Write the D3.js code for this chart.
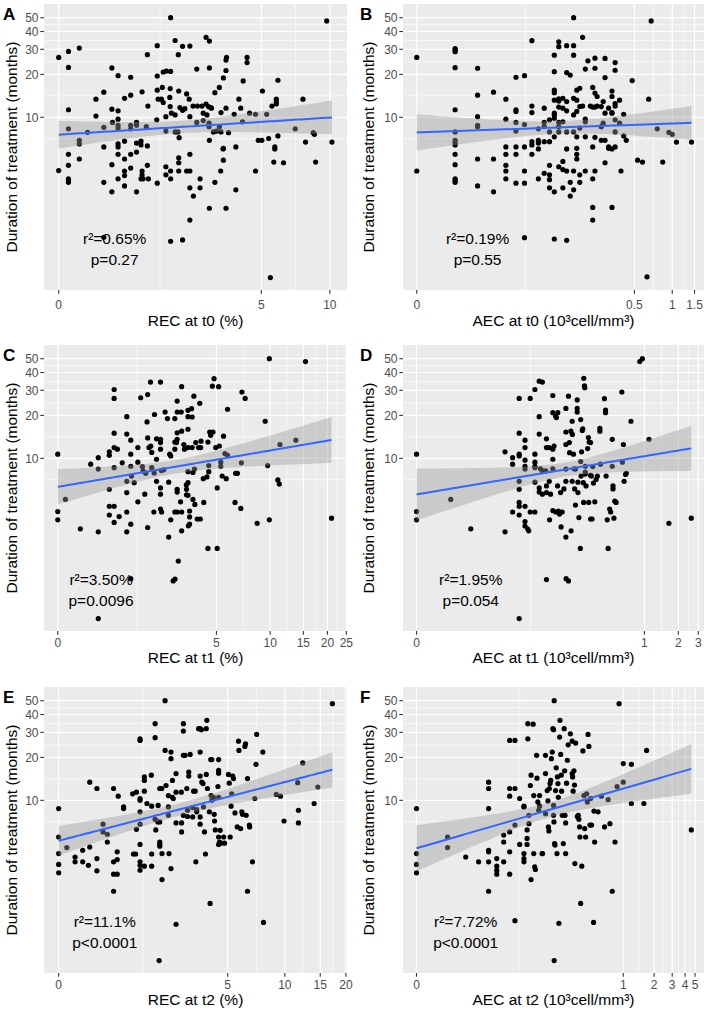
<!DOCTYPE html>
<html lang="en">
<head>
<meta charset="UTF-8">
<title>Duration of treatment vs REC / AEC</title>
<script src="https://d3js.org/d3.v7.min.js"></script>
<style>
  body { margin: 0; background: #ffffff; }
  svg text { font-family: "Liberation Sans", Arial, sans-serif; }
</style>
</head>
<body>
<svg id="chart" width="708" height="1017"></svg>
<script>
// ---- data (x value, months) ----
const pointsA = [[1.69,50],[9.7,47.5],[2.68,36.4],[2.79,34.3],[1.8,34.6],[0,26.3],[0.09,29],[0.2,30.6],[1.19,27.5],[1.39,31.8],[1.99,31.5],[2.19,31.6],[1.88,27.5],[3.41,26.4],[3.39,25.2],[4.29,26.3],[4.29,24.2],[0.09,22.4],[0.6,22.2],[2.79,22.2],[2.39,21.8],[3.39,21.3],[1.39,19.5],[1.52,20.8],[1.59,21.1],[1.69,21],[0.69,19.6],[0.89,19.1],[3.29,18.9],[4.11,18],[5.95,18.2],[1.5,16.2],[3.14,16.2],[2.98,14.9],[1.09,15.1],[1.68,15.9],[1.89,15.3],[0.49,15],[0.89,14.3],[0.39,13.4],[0.79,13.6],[2.1,14.6],[1.39,15.5],[1.48,13.4],[1.52,12.7],[1.41,13.4],[2.17,13.4],[1.92,11.7],[1.99,11.2],[2.05,11.5],[2.28,12],[2.41,12],[2.55,12],[2.68,12.4],[2.76,11.9],[2.84,11.7],[2.59,10.7],[2.71,10.4],[2.86,11.6],[3.39,11.6],[1.2,12],[1.67,13.8],[5.06,15.3],[5.85,13.4],[5.85,12.8],[5.85,12.4],[7.67,13.4],[3.92,13.4],[4,11.6],[0.6,11.4],[0.69,11.1],[1.68,11.9],[0.09,11.3],[0.39,10.2],[0.69,9.7],[1.38,9.6],[1.58,10.1],[1.71,10.7],[1.8,10.4],[2.19,10.1],[2.39,9.2],[2.59,9.5],[3.2,10.8],[4.41,10.7],[4.7,10.5],[5.29,10.5],[5.59,12],[3.72,10.5],[0.09,8.3],[0.29,7.85],[0.2,6.9],[0.2,6.5],[0.49,8.5],[0.61,9.2],[0.69,8.8],[0.69,8.4],[0.89,8.8],[0.99,9.2],[0.89,8.3],[0.99,8.8],[1.17,8.6],[1.58,8],[1.8,7.9],[1.87,7.9],[1.9,7.2],[2.78,9.1],[2.78,8.6],[2.93,7.9],[3.04,8],[3.14,8.6],[3.2,7.9],[3.49,7.8],[4.08,9.3],[7.1,8.3],[8.5,7.8],[8.6,7.6],[4.84,6.9],[5.03,6.9],[5.4,7.1],[5.95,7.4],[7.87,6.7],[10.2,6.7],[5.76,6.2],[5.76,6],[2.79,6.9],[3.28,6],[3.79,6.2],[0.09,5.5],[0.09,4.6],[0,4.23],[0.2,5.1],[0.49,6.2],[0.69,6.5],[0.69,6.2],[0.69,5.5],[0.6,4.65],[0.79,6.8],[0.79,5.1],[0.79,4.2],[0.79,3.9],[0.89,5.5],[0.89,4.4],[0.99,6.6],[0.99,5.7],[1.07,6.8],[1.07,6.4],[1.09,4.2],[1.09,3.95],[1.11,3.7],[1.19,6.3],[1.19,4.6],[1.39,3.45],[1.58,4.5],[1.58,3.95],[1.69,4.2],[1.69,3.7],[1.89,5.2],[1.89,4.8],[1.89,4.2],[2.1,4.2],[2.19,5.5],[2.19,4.2],[2.49,3.7],[2.49,3.2],[2.98,3.5],[3.19,4.2],[3.29,5],[3.29,6.06],[3.79,3.1],[4.7,4.2],[5.7,4.85],[6.3,4.8],[8.7,4.85],[0.09,3.7],[0.09,3.6],[0.09,3.5],[0.49,3.5],[0.6,3],[0.69,3.7],[0.79,3.3],[0.99,3],[1.07,3.7],[1.21,3.7],[2.19,3.2],[2.29,2.8],[2.79,2.3],[3.39,2.3],[2.19,1.9],[1.69,1.35],[1.99,1.38],[0.49,1.44],[5.5,0.75]];

const pointsB = [[0,26.3],[0,4.2],[0.01,30.4],[0.01,29.6],[0.01,28.9],[0.01,22.3],[0.01,11.3],[0.01,7.9],[0.01,6.9],[0.01,6.65],[0.01,6.4],[0.01,5.5],[0.01,4.65],[0.01,3.7],[0.01,3.6],[0.01,3.5],[0.02,22.1],[0.02,14.3],[0.02,10.1],[0.02,8.8],[0.02,8.6],[0.02,5.1],[0.02,3.3],[0.03,15],[0.03,5.1],[0.03,3],[0.04,13.4],[0.04,9.7],[0.04,6.2],[0.04,5.5],[0.04,4.6],[0.04,4.2],[0.04,3.7],[0.05,19.1],[0.05,11.3],[0.05,11],[0.05,9.2],[0.05,8],[0.05,6.2],[0.05,5.5],[0.05,3.45],[0.06,19.6],[0.06,8.9],[0.06,6.2],[0.06,4.2],[0.06,3.45],[0.06,1.43],[0.07,34.5],[0.07,12],[0.07,10.8],[0.07,6.75],[0.07,6.4],[0.07,5.5],[0.08,8.3],[0.08,6.9],[0.08,6.6],[0.08,6],[0.08,3.7],[0.09,8.6],[0.09,6.75],[0.09,9.2],[0.09,11.6],[0.09,4.05],[0.1,9.6],[0.1,7.9],[0.1,6.75],[0.1,4.6],[0.1,3.95],[0.1,3.65],[0.1,3.2],[0.11,27.3],[0.11,20.9],[0.11,15.5],[0.11,14.9],[0.11,13.2],[0.11,10.7],[0.11,10.4],[0.11,9.85],[0.11,7.3],[0.11,3],[0.11,1.4],[0.12,33.9],[0.12,31.3],[0.12,13.5],[0.12,13],[0.12,11.8],[0.12,9.2],[0.12,8.6],[0.12,7.9],[0.12,4.5],[0.13,13.6],[0.13,11.6],[0.13,9.3],[0.13,4.9],[0.13,4.3],[0.13,3.2],[0.14,20.6],[0.14,31.8],[0.14,12.9],[0.14,11.1],[0.14,7.9],[0.14,6],[0.14,4.2],[0.14,1.37],[0.15,19.8],[0.15,3.5],[0.15,2.8],[0.16,50],[0.16,31.8],[0.16,27.3],[0.16,13.6],[0.16,10.4],[0.16,7.9],[0.16,4.2],[0.16,3.1],[0.17,15.5],[0.17,13.2],[0.17,11],[0.17,7.3],[0.17,6.06],[0.17,5.5],[0.17,5.1],[0.18,16],[0.18,11.9],[0.18,8.4],[0.18,3.95],[0.18,3.5],[0.19,36.4],[0.19,12],[0.2,21.8],[0.2,9.7],[0.2,9.3],[0.2,7.3],[0.2,4.2],[0.21,24.9],[0.22,12],[0.23,16.2],[0.23,11.8],[0.23,6.2],[0.23,3.7],[0.23,2.33],[0.23,1.9],[0.24,22.1],[0.24,26],[0.24,14.8],[0.24,11.8],[0.24,7.24],[0.24,4.2],[0.25,14],[0.25,12],[0.27,11.9],[0.27,8.6],[0.27,6.9],[0.28,12.9],[0.28,9.1],[0.29,25.9],[0.29,19],[0.29,10.7],[0.29,6.9],[0.29,4.8],[0.31,11.6],[0.31,6.2],[0.31,6.06],[0.33,15.3],[0.33,14],[0.33,10.8],[0.33,10.7],[0.33,6],[0.33,2.33],[0.35,24.2],[0.35,21.4],[0.35,12.5],[0.35,12],[0.35,9.6],[0.35,7.9],[0.35,6.2],[0.38,13.2],[0.38,9.1],[0.39,4.2],[0.41,10.5],[0.41,7.4],[0.43,6.9],[0.48,18.1],[0.53,5],[0.58,4.85],[0.65,13.4],[0.68,47.5],[0.76,8.3],[0.84,4.85],[0.94,7.85],[1,7.6],[1.08,6.7],[1.42,6.7],[0.63,0.76]];

const pointsC = [[0,10.7],[0,4.23],[0,3.7],[0.09,5.15],[0.29,3.2],[0.58,10.1],[0.58,8.4],[0.58,3.05],[0.45,9.1],[0.79,11.1],[0.79,10.5],[0.79,6.06],[0.79,4.6],[0.79,4],[0.89,30.4],[0.89,26.3],[0.89,15],[0.89,11.9],[0.89,8.6],[0.89,4.6],[0.89,3.55],[0.96,11.6],[1,3.9],[1.07,9.3],[1.18,19.6],[1.18,14.8],[1.18,6.9],[1.18,5.75],[1.18,4.2],[1.18,3.05],[1.28,13.4],[1.28,10.7],[1.28,8.8],[1.28,3.45],[1.28,1.43],[1.3,7.5],[1.37,6.75],[1.47,11.9],[1.47,9.4],[1.47,4.95],[1.55,26.6],[1.6,8.75],[1.62,8.15],[1.67,5.6],[1.7,7.85],[1.74,18],[1.76,28],[1.76,13.9],[1.76,3.27],[1.8,11.9],[1.85,34.3],[1.86,12.2],[1.89,11],[1.89,8.6],[1.97,7.9],[1.96,4.2],[1.98,20.3],[2.05,13.7],[2.05,9.85],[2.05,6.9],[2.19,34.3],[2.19,13.6],[2.19,12.9],[2.19,11.6],[2.19,6.2],[2.19,5.6],[2.19,4.4],[2.22,8.2],[2.23,4.2],[2.31,8.3],[2.36,21.1],[2.45,19],[2.5,6.8],[2.5,2.8],[2.54,10.7],[2.58,10.4],[2.58,3.7],[2.75,19],[2.75,13],[2.75,11.6],[2.75,4.2],[2.76,1.42],[2.68,1.38],[2.82,12.9],[2.85,25.2],[2.85,21.1],[2.85,15.1],[2.85,13.6],[2.85,6.06],[2.85,5.8],[2.85,4.2],[2.9,1.9],[3,4.95],[3.03,21.1],[3.05,31.8],[3.05,15.5],[3.05,4.2],[3.05,3.1],[3.15,12.5],[3.18,11.6],[3.27,6.5],[3.28,6.06],[3.28,5.55],[3.35,21.7],[3.35,19.6],[3.35,16],[3.35,11.9],[3.35,8.06],[3.35,6.75],[3.35,5.5],[3.37,3.36],[3.43,4.27],[3.43,3.88],[3.43,3.45],[3.53,22.3],[3.56,19.5],[3.56,11.9],[3.6,7.95],[3.6,5.15],[3.65,27.3],[3.68,8.4],[3.7,4.75],[3.75,12.9],[3.83,3.75],[3.9,11.9],[3.97,24.3],[4.02,11.9],[4.04,13.2],[4,3.75],[4.17,7.2],[4.2,4.9],[4.39,7.4],[4.45,13],[4.45,2.33],[4.5,8.9],[4.5,8.06],[4.56,15.3],[4.62,14.5],[4.73,32.1],[4.77,15.3],[4.84,36.2],[4.95,11.9],[5.05,6.2],[5.05,2.33],[5.15,31.8],[5.2,12.2],[5.3,9.4],[5.3,8.8],[5.4,7.5],[5.5,14.3],[5.6,10.8],[5.7,7.2],[5.8,22.1],[5.8,10.5],[6.4,4.9],[6.45,7.85],[6.6,7.85],[6.9,4.45],[6.95,9.3],[7,29.2],[7.3,26.3],[8.5,3.5],[9.4,18.2],[9.7,8.9],[9.9,3.7],[9.9,50],[11,7.05],[11.2,6.6],[11.3,12.5],[13.7,13.4],[15.4,47.7],[21,3.8],[0.58,0.75]];

const pointsD = [[0,10.7],[0,4.23],[0,3.7],[0.01,5.15],[0.02,3.2],[0.05,11.1],[0.05,3.05],[0.06,10.1],[0.06,9.1],[0.06,4.2],[0.07,26.3],[0.07,15],[0.07,10.7],[0.07,10.4],[0.07,6.9],[0.07,6.06],[0.07,4.9],[0.07,4.6],[0.07,4],[0.07,0.75],[0.08,13.4],[0.08,11.9],[0.08,9.7],[0.08,8.8],[0.08,8.4],[0.08,4.6],[0.08,3.6],[0.08,3.35],[0.085,3.2],[0.087,3.1],[0.09,26.3],[0.09,4.2],[0.1,30.4],[0.1,10.7],[0.1,9.4],[0.1,8.8],[0.1,8.6],[0.1,6.8],[0.1,4.2],[0.11,14.8],[0.11,19.6],[0.11,34.8],[0.11,6.2],[0.11,5.8],[0.113,8.45],[0.118,34.3],[0.118,8.15],[0.118,5.6],[0.127,8.15],[0.129,13.7],[0.129,11.9],[0.129,6.4],[0.129,5.75],[0.129,1.41],[0.136,11.9],[0.137,6.9],[0.138,3.7],[0.141,5.6],[0.148,27.6],[0.148,20.9],[0.148,11.6],[0.148,9.85],[0.148,8.45],[0.148,4.3],[0.152,12.2],[0.157,19.8],[0.158,4.2],[0.16,19.3],[0.164,6.4],[0.165,20.9],[0.167,4.27],[0.171,4.06],[0.175,5.75],[0.177,3.3],[0.181,4.2],[0.188,6.1],[0.196,22.4],[0.196,15.3],[0.196,12.5],[0.196,8.4],[0.196,6.9],[0.196,2.8],[0.197,1.43],[0.207,1.38],[0.207,27.3],[0.211,12.9],[0.212,10.95],[0.218,15.5],[0.219,3.1],[0.224,18.2],[0.224,6.9],[0.225,14.7],[0.23,10.7],[0.233,8.45],[0.236,6.1],[0.24,8.4],[0.24,4.7],[0.249,25.7],[0.249,22.4],[0.249,21.1],[0.253,6.8],[0.253,5.75],[0.258,3.84],[0.266,2.33],[0.268,18.7],[0.268,9.5],[0.27,7.5],[0.273,11.1],[0.277,15.7],[0.28,16.1],[0.283,6.75],[0.285,4.9],[0.286,36.4],[0.29,32.2],[0.292,31.3],[0.295,8.8],[0.295,8],[0.295,7.75],[0.3,6.4],[0.31,11.7],[0.315,14],[0.317,4.9],[0.32,13],[0.33,12.9],[0.33,7.6],[0.33,3.75],[0.335,7.5],[0.34,3.75],[0.345,8.75],[0.35,6.7],[0.36,4.95],[0.37,7.1],[0.38,7.5],[0.4,16.2],[0.4,15.5],[0.405,9.1],[0.44,26.2],[0.45,20.9],[0.45,21.8],[0.455,7.5],[0.466,3.7],[0.475,2.33],[0.49,4.4],[0.5,4.2],[0.517,13.6],[0.517,8.8],[0.525,6.4],[0.525,6.1],[0.535,3.8],[0.545,5],[0.56,4.9],[0.63,29.2],[0.636,9.4],[0.65,12.5],[0.66,6.9],[0.68,7.7],[0.69,7.85],[0.76,18.2],[0.91,47.8],[0.96,50],[1.1,13.6],[1.65,3.5],[2.6,3.8]];

const pointsE = [[0,8.75],[0,5.53],[0,4.23],[0,3.55],[0,3.1],[0.09,4.66],[0.19,4],[0.19,3.7],[0.29,4.46],[0.29,3.7],[0.39,13.4],[0.39,4.7],[0.37,3.5],[0.5,12.1],[0.5,3.9],[0.5,3.2],[0.6,6.8],[0.6,6],[0.675,5.78],[0.675,5.1],[0.79,12.1],[0.79,3.7],[0.79,3.03],[0.79,2.3],[0.88,10.7],[0.86,4.35],[0.86,3.84],[0.86,3.03],[0.99,8.98],[0.99,8.75],[1.19,11.1],[1.21,4.2],[1.26,4.2],[1.28,11.4],[1.28,6.26],[1.37,27],[1.37,26.3],[1.37,10.3],[1.37,10],[1.37,8.3],[1.37,6.8],[1.37,4.9],[1.37,3.7],[1.37,3.5],[1.37,3.23],[1.48,14.6],[1.48,13.8],[1.48,11.6],[1.48,3.45],[1.55,9.5],[1.67,15],[1.68,9.1],[1.68,4.2],[1.68,3.45],[1.78,34.5],[1.78,27.5],[1.78,7.36],[1.8,6.2],[1.86,7.05],[1.87,9.2],[1.92,12.1],[1.92,7.05],[1.92,5.1],[1.92,4.9],[1.92,4.76],[1.99,4.23],[1.99,2.78],[1.98,12.1],[2.09,22.4],[2.09,50],[2.12,12.7],[2.2,10.8],[2.2,8.98],[2.2,7.85],[2.22,4.23],[2.29,21.8],[2.29,19.6],[2.29,3.32],[2.34,13.8],[2.34,10.5],[2.37,10.3],[2.47,15.4],[2.47,11.4],[2.47,6.94],[2.47,1.35],[2.67,11.4],[2.68,6.94],[2.68,6],[2.75,34.5],[2.75,30.6],[2.75,20.7],[2.75,7.85],[2.82,20.7],[2.89,12.1],[2.92,8.5],[2.92,7.7],[2.97,14.8],[2.97,15.8],[3.03,21],[3.14,8.9],[3.14,7.64],[3.18,11.6],[3.25,11.6],[3.28,3.7],[3.32,8.6],[3.32,8.3],[3.41,31.8],[3.48,31.8],[3.48,21.8],[3.48,14.8],[3.48,7.64],[3.48,6.8],[3.54,31.3],[3.56,13.4],[3.62,13.1],[3.64,8.98],[3.69,6],[3.74,4.2],[3.78,15.2],[3.78,31.8],[3.81,36.4],[3.84,12.1],[3.94,8.3],[3.98,1.89],[4.01,19.3],[4.03,10.8],[4.07,10],[4.07,19.3],[4.16,10.5],[4.2,7.98],[4.22,7.16],[4.26,6.2],[4.41,12.5],[4.45,19.3],[4.45,16.2],[4.45,15.5],[4.45,10.5],[4.45,5.53],[4.45,4.9],[4.5,5.1],[4.54,6.16],[4.58,5],[4.75,5.53],[4.8,5],[5.05,15.2],[5.1,13.2],[5.16,5.53],[5.22,9.1],[5.26,11.1],[5.33,14.8],[5.38,14.2],[5.48,8.15],[5.64,6.5],[5.73,26],[5.76,22.4],[5.88,6.33],[5.97,8.3],[6.02,7.98],[6.2,23.9],[6.25,24.9],[6.3,7.85],[6.4,14.2],[6.4,2.3],[6.55,6.7],[6.57,6.5],[6.8,3.7],[7,10.3],[7.1,17.9],[7.15,29],[7.71,21.8],[7.77,1.39],[9.04,11],[9.5,10.7],[9.9,7.16],[11.6,13.3],[11.7,8.5],[11.7,6.94],[12.3,18.3],[14,9.5],[14.6,12.4],[17.2,47.7],[1.9,0.75]];

const pointsF = [[0,8.75],[0,4.23],[0,3.55],[0,3.1],[0.01,5.53],[0.01,4.66],[0.02,4],[0.03,3.7],[0.04,13.4],[0.04,12.1],[0.04,8.75],[0.04,4.46],[0.04,4.35],[0.04,3.7],[0.04,2.3],[0.05,3.9],[0.05,3.45],[0.05,3.23],[0.05,3.03],[0.06,5.7],[0.06,5.1],[0.06,3.7],[0.07,12.1],[0.07,10.7],[0.07,6],[0.07,4.35],[0.07,3.03],[0.07,26.3],[0.08,26.3],[0.08,12.1],[0.08,6.7],[0.08,1.43],[0.09,10.3],[0.09,4.9],[0.1,8.98],[0.1,9.1],[0.1,4.23],[0.1,3.9],[0.1,3.7],[0.108,6.2],[0.108,5.4],[0.108,4.9],[0.11,27],[0.113,7.85],[0.113,6.86],[0.117,12.7],[0.119,15],[0.119,2.78],[0.127,10.8],[0.127,4.23],[0.13,3.41],[0.132,3.27],[0.11,34.5],[0.125,34.2],[0.136,20.7],[0.137,14.3],[0.14,9.75],[0.143,8.5],[0.146,10.8],[0.146,9.1],[0.155,4.23],[0.157,4.23],[0.168,20.7],[0.168,15.4],[0.168,8.06],[0.175,11.7],[0.178,9.9],[0.18,6.5],[0.182,6.1],[0.184,12.1],[0.187,13.1],[0.19,13.8],[0.193,19.6],[0.197,21.8],[0.2,31.8],[0.203,31.3],[0.203,9.2],[0.203,7.85],[0.205,7.05],[0.206,50],[0.208,4.97],[0.21,4.85],[0.213,11.7],[0.216,16.9],[0.22,4.23],[0.222,14.6],[0.225,13.1],[0.227,10.5],[0.23,1.37],[0.234,27.8],[0.236,36.4],[0.24,21],[0.243,15],[0.245,11.6],[0.249,7.85],[0.255,4.97],[0.26,31.8],[0.263,16.1],[0.265,7.85],[0.269,6.94],[0.269,4.23],[0.275,13.2],[0.28,19.1],[0.285,24.5],[0.3,29.3],[0.313,26],[0.313,15.4],[0.316,14.6],[0.32,11.6],[0.326,16.1],[0.33,12.8],[0.333,3.6],[0.339,25.2],[0.352,7.7],[0.36,7.85],[0.365,7.35],[0.371,6.5],[0.374,5.53],[0.38,1.89],[0.39,3.45],[0.4,22.2],[0.41,10.8],[0.417,6.33],[0.426,5.53],[0.436,11.1],[0.443,9.75],[0.45,29],[0.459,23.9],[0.47,6.7],[0.477,10.3],[0.488,6.7],[0.51,1.39],[0.515,8.4],[0.523,5.1],[0.565,8.3],[0.61,10.7],[0.655,6.5],[0.71,10.1],[0.74,6.86],[0.78,2.3],[0.83,5.1],[0.87,12.5],[1,18.1],[1,13.4],[1.2,17.9],[1.2,9.5],[1.59,9.5],[1.69,22.4],[4.6,6.2],[0.206,0.75],[0.91,47.7]];

const letters = ['A', 'B', 'C', 'D', 'E', 'F'];
const xTitles = ['REC at t0 (%)', 'AEC at t0 (10³cell/mm³)', 'REC at t1 (%)',
                 'AEC at t1 (10³cell/mm³)', 'REC at t2 (%)', 'AEC at t2 (10³cell/mm³)'];
const yTitle = 'Duration of treatment (months)';
const r2Labels = ['r²=0.65%', 'r²=0.19%', 'r²=3.50%', 'r²=1.95%', 'r²=11.1%', 'r²=7.72%'];
const pLabels = ['p=0.27', 'p=0.55', 'p=0.0096', 'p=0.054', 'p<0.0001', 'p<0.0001'];
const xTicks = [[0, 5, 10], [0, 0.5, 1, 1.5], [0, 5, 10, 15, 20, 25],
                [0, 1, 2, 3], [0, 5, 10, 15, 20], [0, 1, 2, 3, 4, 5]];
const xOffset = [1, 0.01, 1, 0.01, 1, 0.01];   // axes are log10(x + offset)
const xLimits = [[-0.122, 11.8], [-0.0022, 1.782], [-0.144, 25.2],
                 [-0.0024, 3.37], [-0.144, 20.25], [-0.0026, 6.11]];
const yTicks = [10, 20, 30, 40, 50];
const yLimits = [0.614, 62.4];
const annotX = [0.64, 0.02, 0.63, 0.02, 0.63, 0.02];
const annotY = [1.42, 1.0];

// ---- layout ----
const colLeft = [44, 403], colRight = [347, 704];
const rowTop = [4, 345, 687], panelH = 286;
const tickLabelOff = [19, 15.5, 15.5], titleOff = [36, 31.5, 31.5];

const svg = d3.select('#chart');
const allPoints = [pointsA, pointsB, pointsC, pointsD, pointsE, pointsF];

// minor breaks the way ggplot places them (midpoints in transformed space)
let minorBreaks = function(majT, limT) {
  const b = majT.slice();
  const bd = b[1] - b[0];
  if (limT[0] < b[0]) b.unshift(b[0] - bd);
  if (limT[1] > b[b.length - 1]) b.push(b[b.length - 1] + bd);
  const out = [];
  for (let k = 0; k < b.length - 1; k++) out.push((b[k] + b[k + 1]) / 2);
  return out.filter(t => t > limT[0] && t < limT[1]);
};

// linear fit in transformed space with 95% confidence band (geom_smooth lm)
let fitLm = function(ts, us) {
  const n = ts.length;
  const tm = d3.mean(ts), um = d3.mean(us);
  let sxx = 0, sxy = 0;
  ts.forEach((t, k) => { sxx += (t - tm) ** 2; sxy += (t - tm) * (us[k] - um); });
  const b = sxy / sxx, a = um - b * tm;
  let sse = 0;
  ts.forEach((t, k) => { sse += (us[k] - a - b * t) ** 2; });
  const s = Math.sqrt(sse / (n - 2));
  const tq = 1.96 + 2.4 / (n - 2);
  return t => {
    const fit = a + b * t;
    const se = s * Math.sqrt(1 / n + (t - tm) ** 2 / sxx);
    return [fit, fit - tq * se, fit + tq * se];
  };
};

allPoints.forEach((pts, i) => {
  const col = i % 2, row = Math.floor(i / 2);
  const left = colLeft[col], right = colRight[col];
  const top = rowTop[row], bottom = top + panelH;
  const c = xOffset[i];

  const x = d3.scaleLog().domain([xLimits[i][0] + c, xLimits[i][1] + c]).range([left, right]);
  const y = d3.scaleLog().domain(yLimits).range([bottom, top]);
  const g = svg.append('g');

  g.append('rect').attr('x', left).attr('y', top)
    .attr('width', right - left).attr('height', panelH).attr('fill', '#EBEBEB');

  // grid
  const xT = xTicks[i].map(v => Math.log10(v + c));
  const xLimT = xLimits[i].map(v => Math.log10(v + c));
  const yT = yTicks.map(v => Math.log10(v));
  const yLimT = yLimits.map(v => Math.log10(v));

  minorBreaks(xT, xLimT).forEach(t => {
    g.append('line').attr('x1', x(10 ** t)).attr('x2', x(10 ** t))
      .attr('y1', top).attr('y2', bottom)
      .attr('stroke', '#ffffff').attr('stroke-width', 0.6);
  });
  minorBreaks(yT, yLimT).forEach(t => {
    g.append('line').attr('x1', left).attr('x2', right)
      .attr('y1', y(10 ** t)).attr('y2', y(10 ** t))
      .attr('stroke', '#ffffff').attr('stroke-width', 0.6);
  });
  xTicks[i].forEach(v => {
    g.append('line').attr('x1', x(v + c)).attr('x2', x(v + c))
      .attr('y1', top).attr('y2', bottom)
      .attr('stroke', '#ffffff').attr('stroke-width', 1.2);
  });
  yTicks.forEach(v => {
    g.append('line').attr('x1', left).attr('x2', right)
      .attr('y1', y(v)).attr('y2', y(v))
      .attr('stroke', '#ffffff').attr('stroke-width', 1.2);
  });

  // points
  g.selectAll('circle.pt').data(pts).enter().append('circle')
    .attr('class', 'pt')
    .attr('cx', d => x(d[0] + c)).attr('cy', d => y(d[1]))
    .attr('r', 2.6).attr('fill', '#000000');

  // smooth
  const ts = pts.map(d => Math.log10(d[0] + c));
  const us = pts.map(d => Math.log10(d[1]));
  const model = fitLm(ts, us);
  const tMin = d3.min(ts), tMax = d3.max(ts);
  const grid = d3.range(80).map(k => tMin + (tMax - tMin) * k / 79);
  const band = grid.map(t => { const m = model(t); return { t: t, fit: m[0], lo: m[1], hi: m[2] }; });

  g.append('path').datum(band)
    .attr('fill', '#999999').attr('fill-opacity', 0.4)
    .attr('d', d3.area()
      .x(d => x(10 ** d.t))
      .y0(d => y(10 ** d.lo))
      .y1(d => y(10 ** d.hi)));
  g.append('path').datum(band)
    .attr('fill', 'none').attr('stroke', '#3366FF').attr('stroke-width', 2)
    .attr('d', d3.line().x(d => x(10 ** d.t)).y(d => y(10 ** d.fit)));

  // annotations
  [r2Labels[i], pLabels[i]].forEach((txt, k) => {
    g.append('text').attr('x', x(annotX[i] + c)).attr('y', y(annotY[k]))
      .attr('text-anchor', 'middle').attr('dy', '0.35em')
      .attr('font-size', 15.5).attr('fill', '#000000').text(txt);
  });

  // axes
  xTicks[i].forEach(v => {
    g.append('line').attr('x1', x(v + c)).attr('x2', x(v + c))
      .attr('y1', bottom).attr('y2', bottom + 3.7)
      .attr('stroke', '#333333').attr('stroke-width', 1.1);
    g.append('text').attr('x', x(v + c)).attr('y', bottom + tickLabelOff[row])
      .attr('text-anchor', 'middle').attr('font-size', 12).attr('fill', '#4D4D4D')
      .text(v);
  });
  yTicks.forEach(v => {
    g.append('line').attr('x1', left - 3.7).attr('x2', left)
      .attr('y1', y(v)).attr('y2', y(v))
      .attr('stroke', '#333333').attr('stroke-width', 1.1);
    g.append('text').attr('x', left - 5.5).attr('y', y(v)).attr('dy', '0.35em')
      .attr('text-anchor', 'end').attr('font-size', 12).attr('fill', '#4D4D4D')
      .text(v);
  });

  g.append('text').attr('x', (left + right) / 2).attr('y', bottom + titleOff[row])
    .attr('text-anchor', 'middle').attr('font-size', 15.5).attr('fill', '#000000')
    .text(xTitles[i]);

  const yx = col ? 374 : 16.5;
  g.append('text')
    .attr('transform', 'translate(' + yx + ',' + (top + panelH / 2) + ') rotate(-90)')
    .attr('text-anchor', 'middle').attr('font-size', 15.5).attr('fill', '#000000')
    .text(yTitle);

  g.append('text').attr('x', col ? 360 : 3).attr('y', top + 16)
    .attr('font-size', 17).attr('font-weight', 'bold').attr('fill', '#000000')
    .text(letters[i]);
});
</script>
</body>
</html>
